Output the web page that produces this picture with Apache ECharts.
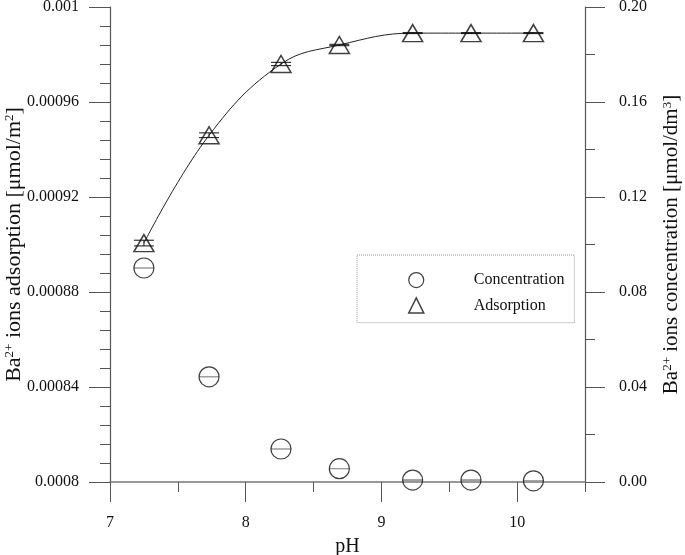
<!DOCTYPE html>
<html>
<head>
<meta charset="utf-8">
<script src="https://cdn.jsdelivr.net/npm/echarts@6/dist/echarts.min.js"></script>
<style>
  body { margin: 0; background: #fff; }
  #chart { width: 685px; height: 555px; }
</style>
</head>
<body>
<div id="chart"></div>
<script>
// pH of the samples
var ph = [7.25, 7.73, 8.26, 8.69, 9.23, 9.66, 10.12];
// adsorption, left axis [umol/m2]
var adsorption = [0.0009006, 0.000946, 0.000976, 0.000984, 0.000989, 0.000989, 0.000989];
var adsorptionErr = [0.0000012, 0.000001, 0.0000007, 0.0000003, 0.0000002, 0.0000002, 0.0000002];
// concentration, right axis [umol/dm3]
var concentration = [0.0901, 0.0443, 0.0139, 0.0056, 0.0008, 0.0008, 0.0005];
var concentrationErr = [0, 0, 0, 0, 0.0002, 0.0002, 0];

var xMajorTicks = [7, 8, 9, 10];
var xMinorTicks = [7.5, 8.5, 9.5, 10.5];

var font = "Liberation Serif";
var axisColor = "#555";

function pairs(xs, ys, es) {
  return xs.map(function (x, i) {
    return es ? [x, ys[i], es[i]] : [x, ys[i]];
  });
}

// error bars with caps
function errorBar(capColor) {
  return function (params, api) {
    var x = api.value(0), y = api.value(1), e = api.value(2);
    var hi = api.coord([x, y + e]);
    var lo = api.coord([x, y - e]);
    var w = 10;
    var style = { stroke: capColor, lineWidth: 1 };
    return {
      type: "group",
      children: [
        { type: "line", shape: { x1: hi[0], y1: hi[1], x2: lo[0], y2: lo[1] }, style: style },
        { type: "line", shape: { x1: hi[0] - w, y1: hi[1], x2: hi[0] + w, y2: hi[1] }, style: style },
        { type: "line", shape: { x1: lo[0] - w, y1: lo[1], x2: lo[0] + w, y2: lo[1] }, style: style },
      ],
    };
  };
}

var myChart = echarts.init(document.getElementById("chart"));

var option = {
  animation: false,
  grid: { left: 110, right: 100, top: 7, bottom: 73, outerBoundsMode: "none" },
  legend: {
    orient: "vertical",
    left: 357,
    top: 255,
    padding: [17, 10, 9, 51],
    itemGap: 9,
    itemWidth: 15,
    itemHeight: 15,
    borderColor: "#999",
    borderWidth: 1,
    borderType: "dotted",
    textStyle: { fontFamily: font, fontSize: 16, color: "#111", lineHeight: 16, padding: [0, 0, 0, 45] },
    data: [
      { name: "Concentration", icon: "circle", itemStyle: { color: "transparent", borderColor: "#111", borderWidth: 1.2 } },
      { name: "Adsorption", icon: "triangle", itemStyle: { color: "transparent", borderColor: "#111", borderWidth: 1.5 } },
    ],
  },
  xAxis: [
    {
      type: "value",
      min: 7,
      max: 10.5,
      interval: 1,
      name: "pH",
      nameLocation: "middle",
      nameGap: 55,
      nameMoveOverlap: false,
      nameTextStyle: { fontFamily: font, fontSize: 20, color: "#111" },
      axisLine: { onZero: false, lineStyle: { color: "#777", width: 1.5 } },
      axisTick: { length: 20, customValues: xMajorTicks, lineStyle: { color: axisColor } },
      axisLabel: { customValues: xMajorTicks, margin: 33, fontFamily: font, fontSize: 16, color: "#111" },
      splitLine: { show: false },
    },
    {
      type: "value",
      min: 7,
      max: 10.5,
      position: "bottom",
      axisLine: { show: false, onZero: false },
      axisTick: { length: 10, customValues: xMinorTicks, lineStyle: { color: axisColor } },
      axisLabel: { show: false },
      splitLine: { show: false },
    },
  ],
  yAxis: [
    {
      type: "value",
      min: 0.0008,
      max: 0.001,
      interval: 0.00004,
      position: "left",
      name: "Ba{s|2+} ions adsorption [μmol/m{s|2}]",
      nameLocation: "middle",
      nameRotate: 90,
      nameGap: 85,
      nameMoveOverlap: false,
      nameTextStyle: {
        fontFamily: font,
        fontSize: 22,
        color: "#111",
        rich: { s: { fontFamily: font, fontSize: 13, color: "#111", verticalAlign: "top" } },
      },
      axisLine: { show: true, onZero: false, lineStyle: { color: axisColor, width: 1.2 } },
      axisTick: { show: true, length: 21, lineStyle: { color: axisColor } },
      minorTick: { show: true, splitNumber: 5, length: 10, lineStyle: { color: axisColor } },
      axisLabel: {
        margin: 31,
        fontFamily: font,
        fontSize: 16,
        color: "#111",
        formatter: function (v) {
          return String(parseFloat(v.toPrecision(6)));
        },
      },
      splitLine: { show: false },
    },
    {
      type: "value",
      min: 0,
      max: 0.2,
      interval: 0.04,
      position: "right",
      name: "Ba{s|2+} ions concentration [μmol/dm{s|3}]",
      nameLocation: "middle",
      nameRotate: 90,
      nameGap: 76,
      nameMoveOverlap: false,
      nameTextStyle: {
        fontFamily: font,
        fontSize: 21,
        color: "#111",
        rich: { s: { fontFamily: font, fontSize: 13, color: "#111", verticalAlign: "top" } },
      },
      axisLine: { show: true, onZero: false, lineStyle: { color: axisColor, width: 1.2 } },
      axisTick: { show: true, length: 20, lineStyle: { color: axisColor } },
      minorTick: { show: true, splitNumber: 2, length: 10, lineStyle: { color: axisColor } },
      axisLabel: {
        margin: 34,
        fontFamily: font,
        fontSize: 16,
        color: "#111",
        formatter: function (v) {
          return v.toFixed(2);
        },
      },
      splitLine: { show: false },
    },
  ],
  series: [
    {
      name: "fit",
      type: "line",
      yAxisIndex: 0,
      smooth: 0.4,
      showSymbol: false,
      lineStyle: { color: "#222", width: 1 },
      data: pairs(ph, adsorption),
      z: 1,
    },
    {
      name: "adsErr",
      type: "custom",
      yAxisIndex: 0,
      renderItem: errorBar("#111"),
      data: pairs(ph, adsorption, adsorptionErr),
      z: 2,
    },
    {
      name: "Adsorption",
      type: "scatter",
      yAxisIndex: 0,
      symbol: "triangle",
      symbolSize: [20, 17],
      itemStyle: { color: "transparent", borderColor: "#111", borderWidth: 1.5 },
      data: pairs(ph, adsorption),
      z: 3,
    },
    {
      name: "concErr",
      type: "custom",
      yAxisIndex: 1,
      renderItem: errorBar("#999"),
      data: pairs(ph, concentration, concentrationErr),
      z: 2,
    },
    {
      name: "Concentration",
      type: "scatter",
      yAxisIndex: 1,
      symbol: "circle",
      symbolSize: 20,
      itemStyle: { color: "transparent", borderColor: "#111", borderWidth: 1.2 },
      data: pairs(ph, concentration),
      z: 3,
    },
  ],
};

myChart.setOption(option);
</script>
</body>
</html>
